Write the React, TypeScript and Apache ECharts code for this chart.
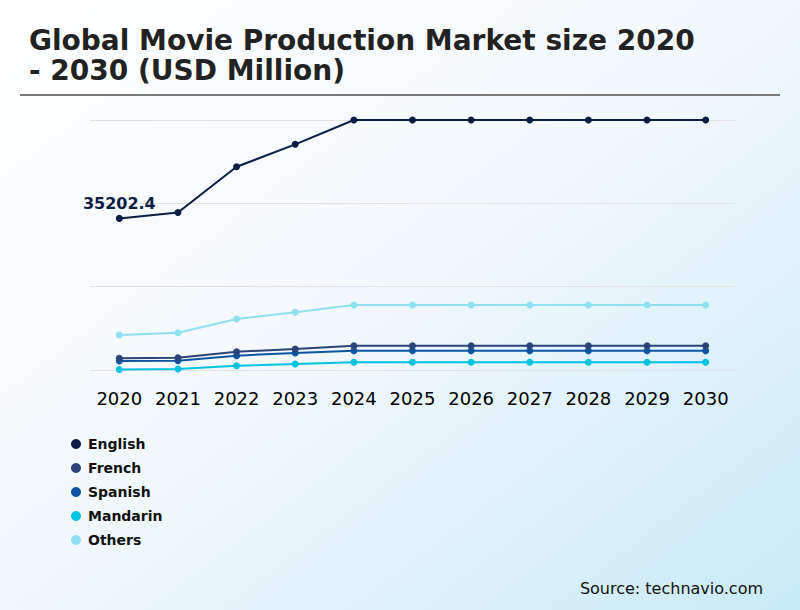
import React, { useEffect, useRef } from "react";
import * as echarts from "echarts";

const years = ["2020", "2021", "2022", "2023", "2024", "2025", "2026", "2027", "2028", "2029", "2030"];
const english = [35202.4, 36570, 47200, 52400, 58050, 58050, 58050, 58050, 58050, 58050, 58050];
const french = [2710, 2860, 4250, 4880, 5650, 5650, 5650, 5650, 5650, 5650, 5650];
const spanish = [2090, 2170, 3330, 3950, 4490, 4490, 4490, 4490, 4490, 4490, 4490];
const mandarin = [100, 230, 1000, 1390, 1780, 1780, 1780, 1780, 1780, 1780, 1780];
const others = [8130, 8670, 11840, 13390, 15090, 15090, 15090, 15090, 15090, 15090, 15090];

const seriesNames = ["English", "French", "Spanish", "Mandarin", "Others"];
const seriesData = [english, french, spanish, mandarin, others];
const colors = ["#0b1c45", "#2c4379", "#0c56a4", "#00c3e1", "#8ee0f3"];

const FONT = "DejaVu Sans, sans-serif";

export default function App() {
  const ref = useRef<HTMLDivElement>(null);
  useEffect(() => {
    if (!ref.current) return;
    const chart = echarts.init(ref.current, null, { renderer: "svg" });
    const series = seriesNames.map((name, i) => ({
      name,
      type: "line",
      data: seriesData[i].map((v, j) =>
        i === 0 && j === 0
          ? {
              value: v,
              label: {
                show: true,
                position: "top",
                distance: 3,
                fontFamily: FONT,
                fontWeight: "bold",
                fontSize: 16,
                color: "#0b1c45",
              },
            }
          : v
      ),
      symbol: "circle",
      symbolSize: 7,
      lineStyle: { width: 2, color: colors[i] },
      itemStyle: { color: colors[i] },
      z: 10 - i,
    }));
    chart.setOption({
      animation: false,
      backgroundColor: new echarts.graphic.LinearGradient(0, 0, 1, 1, [
        { offset: 0, color: "#ffffff" },
        { offset: 0.5, color: "#f1f8fd" },
        { offset: 1, color: "#c8eaf8" },
      ]),
      title: {
        text: "Global Movie Production Market size 2020\n- 2030 (USD Million)",
        left: 24,
        top: 20,
        textStyle: {
          fontFamily: FONT,
          fontWeight: "bold",
          fontSize: 28,
          lineHeight: 30,
          color: "#222222",
        },
      },
      graphic: [
        {
          type: "line",
          shape: { x1: 20, y1: 95, x2: 780, y2: 95 },
          style: { stroke: "#7a7a7a", lineWidth: 2 },
        },
        {
          type: "text",
          right: 37,
          top: 580,
          style: {
            text: "Source: technavio.com",
            font: "16px DejaVu Sans, sans-serif",
            fill: "#111111",
          },
        },
      ],
      legend: {
        orient: "vertical",
        left: 66,
        top: 432,
        icon: "circle",
        itemWidth: 10,
        itemHeight: 10,
        itemGap: 10,
        data: seriesNames,
        textStyle: {
          fontFamily: FONT,
          fontWeight: "bold",
          fontSize: 14,
          lineHeight: 14,
          color: "#111111",
          padding: [0, 0, 0, 2],
        },
      },
      grid: { left: 90, right: 65, top: 120, bottom: 240 },
      xAxis: {
        type: "category",
        data: years,
        boundaryGap: true,
        axisLine: { show: false },
        axisTick: { show: false },
        axisLabel: {
          interval: 0,
          margin: 19,
          fontFamily: FONT,
          fontSize: 18,
          color: "#000000",
        },
      },
      yAxis: {
        type: "value",
        min: 0,
        max: 58050,
        interval: 19350,
        axisLabel: { show: false },
        axisLine: { show: false },
        axisTick: { show: false },
        splitLine: { lineStyle: { color: "#e2e2e2", width: 1 } },
      },
      series,
    });
    return () => chart.dispose();
  }, []);
  return (
    <div
      ref={ref}
      style={{ position: "fixed", left: 0, top: 0, width: 800, height: 610 }}
    />
  );
}
